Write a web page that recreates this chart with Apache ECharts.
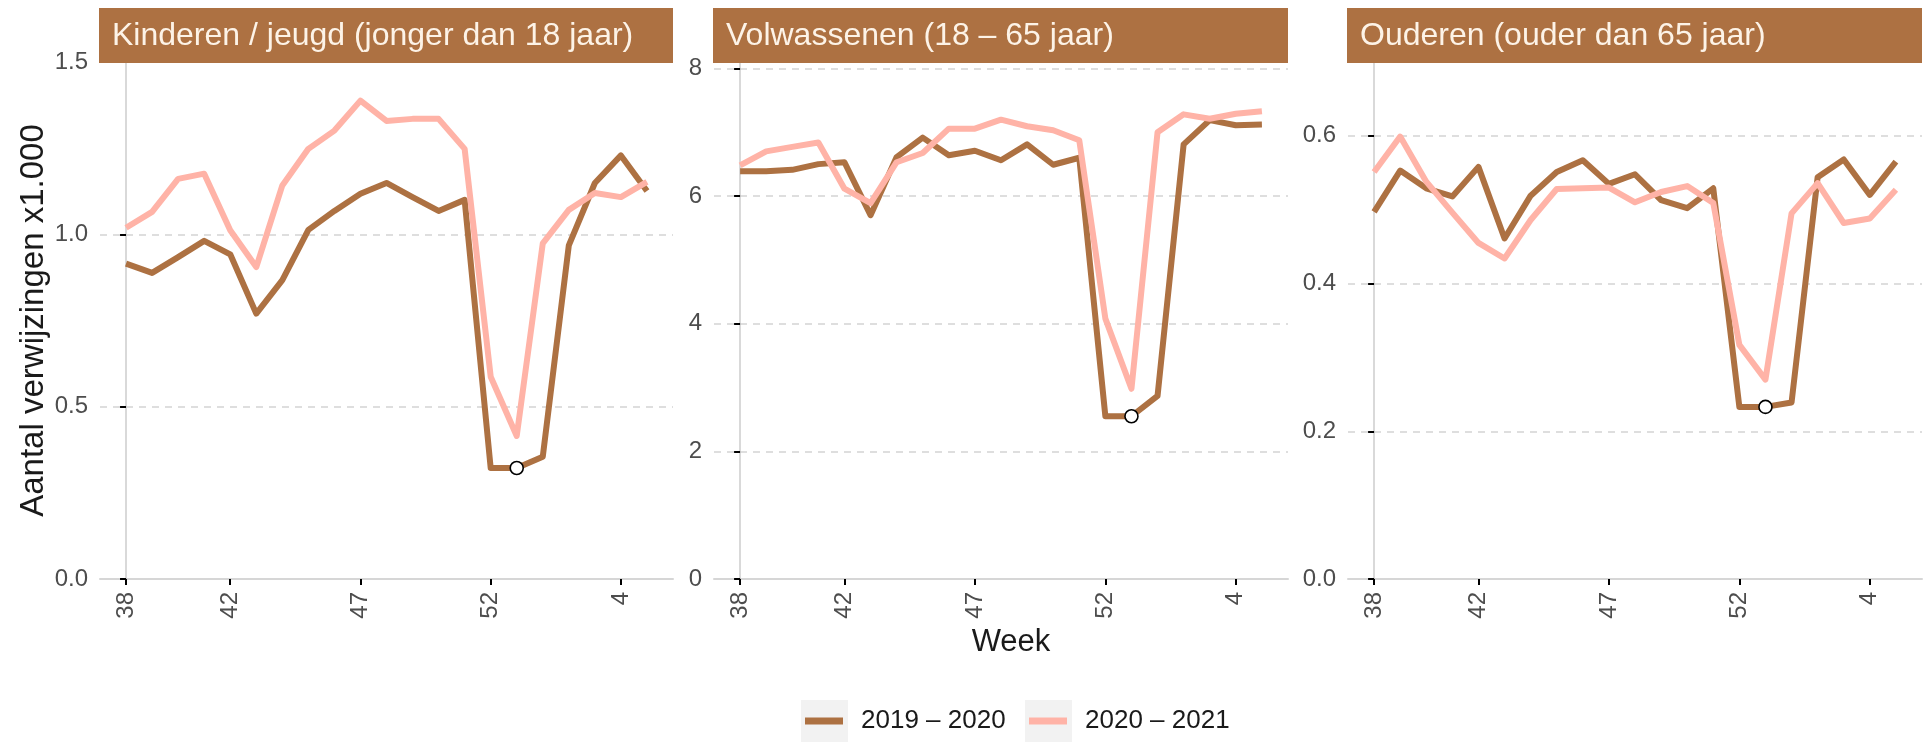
<!DOCTYPE html>
<html>
<head>
<meta charset="utf-8">
<script src="https://cdn.jsdelivr.net/npm/echarts@6/dist/echarts.min.js"></script>
<style>
  html, body { margin: 0; padding: 0; background: #fff; }
  #chart { width: 1930px; height: 742px; }
</style>
</head>
<body>
<div id="chart"></div>
<script>
// ---- data ----
const weeks = [38, 39, 40, 41, 42, 43, 44, 45, 46, 47, 48, 49, 50, 51, 52, 53, 1, 2, 3, 4, 5];
const tickWeeks = [38, 42, 47, 52, 4];
const seriesNames = ['2019 – 2020', '2020 – 2021'];
const panelTitles = [
  'Kinderen / jeugd (jonger dan 18 jaar)',
  'Volwassenen (18 – 65 jaar)',
  'Ouderen (ouder dan 65 jaar)'
];
const kids1920   = [0.915, 0.888, 0.934, 0.981, 0.942, 0.770, 0.867, 1.013, 1.068, 1.118, 1.149, 1.108, 1.068, 1.100, 0.322, 0.322, 0.355, 0.968, 1.149, 1.229, 1.126];
const kids2021   = [1.019, 1.065, 1.161, 1.176, 1.012, 0.905, 1.142, 1.248, 1.301, 1.388, 1.329, 1.335, 1.335, 1.248, 0.587, 0.415, 0.974, 1.071, 1.120, 1.108, 1.152];
const adults1920 = [6.39, 6.39, 6.41, 6.50, 6.53, 5.70, 6.61, 6.915, 6.64, 6.71, 6.56, 6.81, 6.49, 6.60, 2.55, 2.55, 2.87, 6.81, 7.19, 7.11, 7.12];
const adults2021 = [6.48, 6.70, 6.77, 6.84, 6.115, 5.89, 6.53, 6.675, 7.056, 7.056, 7.197, 7.093, 7.03, 6.873, 4.08, 2.98, 7.00, 7.28, 7.21, 7.29, 7.33];
const elderly1920 = [0.497, 0.553, 0.529, 0.518, 0.558, 0.461, 0.519, 0.551, 0.567, 0.535, 0.548, 0.513, 0.502, 0.529, 0.233, 0.233, 0.239, 0.544, 0.568, 0.520, 0.565];
const elderly2021 = [0.551, 0.599, 0.538, 0.496, 0.455, 0.434, 0.486, 0.528, 0.529, 0.530, 0.510, 0.524, 0.532, 0.509, 0.317, 0.270, 0.495, 0.536, 0.482, 0.488, 0.527];
const yMax = [1.5, 8.1, 0.7];
const yTicks = [[0, 0.5, 1.0, 1.5], [0, 2, 4, 6, 8], [0, 0.2, 0.4, 0.6]];
const yDecimals = [1, 0, 1];
const markWeek = 53;

// ---- styling ----
const BROWN = '#AD7142';
const PINK = '#FFB3A7';
const FONT = "'Liberation Sans', Arial, Helvetica, sans-serif";
const panelData = [[kids1920, kids2021], [adults1920, adults2021], [elderly1920, elderly2021]];
const grids = [
  { left: 100, top: 62, width: 573, height: 517 },
  { left: 714, top: 62, width: 574, height: 517 },
  { left: 1348, top: 62, width: 574, height: 517 }
];
const tickIdx = tickWeeks.map(w => weeks.indexOf(w));
const markIdx = weeks.indexOf(markWeek);

const xAxes = grids.map((g, i) => ({
  gridIndex: i,
  type: 'value',
  min: -1,
  max: weeks.length,
  position: 'bottom',
  axisLine: { show: true, onZero: false, lineStyle: { color: '#D6D6D6', width: 2 } },
  axisTick: { show: true, customValues: tickIdx, length: 6, lineStyle: { color: '#000', width: 2 } },
  axisLabel: {
    customValues: tickIdx, rotate: 90, margin: 13,
    fontSize: 24, fontFamily: FONT, color: '#4D4D4D',
    formatter: v => String(weeks[Math.round(v)])
  },
  splitLine: { show: false },
  name: i === 1 ? 'Week' : '',
  nameLocation: 'middle',
  nameGap: 42,
  nameTextStyle: { fontSize: 31, fontFamily: FONT, color: '#1A1A1A', padding: [0, 0, 0, 20] }
}));

const yAxes = grids.map((g, i) => ({
  gridIndex: i,
  type: 'value',
  min: 0,
  max: yMax[i],
  axisLine: { show: true, lineStyle: { color: '#D9D9D9', width: 2 } },
  axisTick: { show: true, customValues: yTicks[i], length: 6, lineStyle: { color: '#000', width: 2 } },
  axisLabel: {
    customValues: yTicks[i], margin: 12,
    fontSize: 24, fontFamily: FONT, color: '#4D4D4D',
    formatter: v => Number(v).toFixed(yDecimals[i])
  },
  splitLine: { show: true, showMinLine: false, lineStyle: { color: '#D3D3D3', width: 1.5, type: [7, 6] } },
  name: i === 0 ? 'Aantal verwijzingen x1.000' : '',
  nameLocation: 'middle',
  nameGap: 48,
  nameTextStyle: { fontSize: 33, fontFamily: FONT, color: '#1A1A1A' }
}));

const series = [];
panelData.forEach((pair, p) => {
  pair.forEach((arr, s) => {
    const color = s === 0 ? BROWN : PINK;
    const ser = {
      type: 'line',
      name: seriesNames[s],
      xAxisIndex: p,
      yAxisIndex: p,
      data: arr.map((v, k) => [k, v]),
      symbol: 'none',
      lineStyle: { color: color, width: 6, join: 'round', cap: 'butt' },
      itemStyle: { color: color },
      z: 2 + s
    };
    if (s === 0) {
      ser.markPoint = {
        symbol: 'circle',
        symbolSize: 13,
        silent: true,
        label: { show: false },
        itemStyle: { color: '#fff', borderColor: '#000', borderWidth: 1.6 },
        data: [{ coord: [markIdx, arr[markIdx]] }],
        z: 10
      };
    }
    series.push(ser);
  });
});

const graphics = [];
grids.forEach((g, i) => {
  graphics.push({
    type: 'group',
    children: [
      { type: 'rect', shape: { x: g.left - 1, y: 8, width: g.width + 1, height: 55 }, style: { fill: BROWN }, z: 20 },
      { type: 'text', x: g.left + 12, y: 36, z: 21,
        style: { text: panelTitles[i], fill: '#FDF3E7', font: "32px " + FONT, textVerticalAlign: 'middle', verticalAlign: 'middle' } }
    ]
  });
});
// legend key backgrounds
[801, 1025].forEach(x => {
  graphics.push({ type: 'rect', shape: { x: x, y: 700, width: 47, height: 46 }, style: { fill: '#F2F2F2' }, z: 0 });
});

const legendBase = {
  top: 708,
  padding: 0,
  itemWidth: 38,
  itemHeight: 7,
  icon: 'rect',
  itemStyle: { borderWidth: 0 },
  textStyle: { fontSize: 26, fontFamily: FONT, color: '#1A1A1A', padding: [0, 0, 0, 13] },
  selectedMode: false
};

const option = {
  animation: false,
  backgroundColor: '#fff',
  grid: grids,
  xAxis: xAxes,
  yAxis: yAxes,
  series: series,
  legend: [
    Object.assign({}, legendBase, { left: 805, data: [seriesNames[0]] }),
    Object.assign({}, legendBase, { left: 1029, data: [seriesNames[1]] })
  ],
  graphic: graphics
};

const chart = echarts.init(document.getElementById('chart'), null, { renderer: 'canvas' });
chart.setOption(option);
</script>
</body>
</html>
